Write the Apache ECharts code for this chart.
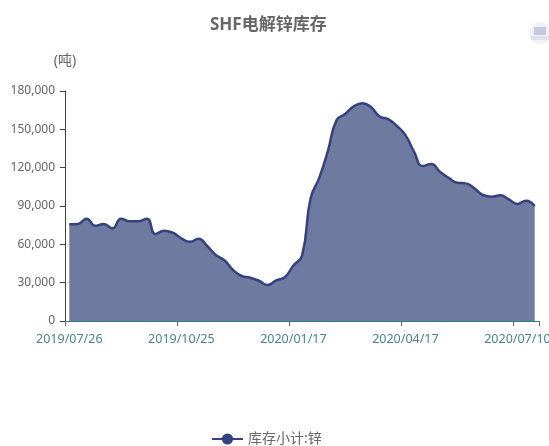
<!DOCTYPE html>
<html>
<head>
<meta charset="utf-8">
<style>html,body{margin:0;padding:0;background:#fff}#c{width:549px;height:446px}</style>
<script src="https://cdn.jsdelivr.net/npm/echarts@6/dist/echarts.min.js"></script>
</head>
<body>
<div id="c"></div>
<script>
const dates = ['2019/07/26','2019/08/02','2019/08/09','2019/08/16','2019/08/23','2019/08/30','2019/09/06','2019/09/13','2019/09/20','2019/09/27','2019/10/11','2019/10/18','2019/10/24',
  '2019/10/25','2019/11/01','2019/11/08','2019/11/15','2019/11/22','2019/11/29','2019/12/06','2019/12/13','2019/12/20','2019/12/27','2019/12/31','2020/01/03','2020/01/10',
  '2020/01/17','2020/01/23','2020/02/07','2020/02/14','2020/02/21','2020/02/28','2020/03/06','2020/03/13','2020/03/20','2020/03/27','2020/04/03','2020/04/10','2020/04/16',
  '2020/04/17','2020/04/24','2020/04/30','2020/05/08','2020/05/15','2020/05/22','2020/05/29','2020/06/05','2020/06/12','2020/06/19','2020/06/24','2020/07/03','2020/07/09',
  '2020/07/10','2020/07/17','2020/07/24'];
const stock = [75700,76000,80000,74500,76000,72500,80000,78000,78000,80000,68000,70700,69100,
  64700,62000,64400,58700,51700,47500,39900,35200,33900,31500,28200,31800,34200,
  43500,51000,96000,112000,133000,157000,162000,168000,170500,167500,160000,158000,152600,
  145500,132500,121300,122900,116800,112100,108200,107700,103800,98600,97300,98400,95200,
  91600,94100,90000];
const yMax = 180000;
const yStep = 30000;
const seriesName = '库存小计:锌';
const titleText = 'SHF电解锌库存';
const unitName = '(吨)';

const font = '"Noto Sans","Noto Sans CJK SC",sans-serif';
const c = echarts.init(document.getElementById('c'), null, {renderer:'canvas'});
c.setOption({
  animation:false,
  backgroundColor:'#fff',
  title:{text:titleText,left:205,top:12,textStyle:{fontSize:17,fontWeight:'bold',color:'#666',fontFamily:font}},
  grid:{left:65,right:10,top:91,bottom:125,containLabel:false,outerBoundsMode:'none'},
  legend:{top:427,left:206,itemWidth:31,itemHeight:14,itemGap:5,textStyle:{fontSize:14,color:'#666',fontFamily:font},data:[seriesName]},
  xAxis:{type:'category',data:dates,boundaryGap:true,
    axisLine:{lineStyle:{color:'#2f7f86',width:1}},
    axisTick:{show:true,interval:12,length:5,lineStyle:{color:'#2f7f86'}},
    axisLabel:{interval:12,color:'#4a858c',fontSize:12.5,fontFamily:font,margin:12,hideOverlap:false}},
  yAxis:{type:'value',min:0,max:yMax,interval:yStep,name:unitName,nameLocation:'end',nameGap:23,
    nameTextStyle:{color:'#666',fontSize:14,fontFamily:font,align:'center'},
    axisLine:{show:true,lineStyle:{color:'#444',width:1}},
    axisTick:{show:true,length:5,lineStyle:{color:'#444'}},
    splitLine:{show:false},
    axisLabel:{color:'#666',fontSize:12,fontFamily:font,margin:10,formatter:v=>v.toLocaleString('en-US')}},
  series:[{name:seriesName,type:'line',data:stock,smooth:0.5,showSymbol:false,symbol:'circle',symbolSize:10,
    itemStyle:{color:'#34427f'},
    lineStyle:{color:'#34427f',width:2.5},
    areaStyle:{color:'#6f7aa1',opacity:1}}],
  graphic:[
    {type:'circle',shape:{cx:540,cy:33,r:11},style:{fill:'#f1f2f6'},silent:true},
    {type:'rect',shape:{x:534,y:27,width:12,height:8},style:{fill:'#c3c8da'},silent:true},
    {type:'rect',shape:{x:531,y:36,width:18,height:4},style:{fill:'#dfe1ea'},silent:true}
  ]
});
window.addEventListener('resize',()=>c.resize());
</script>
</body>
</html>
